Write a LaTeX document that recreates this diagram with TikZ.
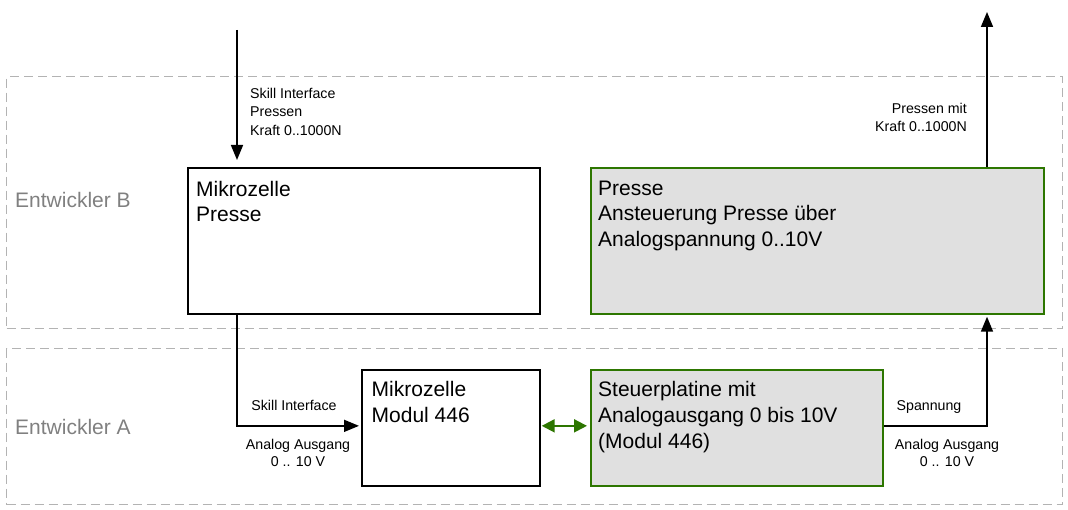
\documentclass[tikz,border=0pt]{standalone}
\usepackage{fontspec}
\setmainfont{Liberation Sans}
\usetikzlibrary{arrows.meta}
\definecolor{grn}{HTML}{2D7600}
\definecolor{gfill}{HTML}{E0E0E0}
\definecolor{lanec}{HTML}{B3B3B3}
\definecolor{lanetxt}{HTML}{808080}
\newcommand\bigf{\fontsize{21}{25.6}\selectfont}
\newcommand\smallf{\fontsize{14.2}{18.4}\selectfont}
\newcommand\smallg{\fontsize{14.2}{17.2}\selectfont}
\begin{document}
\begin{tikzpicture}[x=1pt,y=-1pt,
  lane/.style={draw=lanec, line width=1.2pt, dash pattern=on 9pt off 5pt, rectangle, inner sep=0pt, anchor=north west},
  lanelbl/.style={text=lanetxt, font=\bigf, inner sep=0pt, anchor=base west},
  wbox/.style={draw=black, line width=1.7pt, fill=white, rectangle, inner sep=0pt, anchor=north west},
  gbox/.style={draw=grn, fill=gfill, line width=1.7pt, rectangle, inner sep=0pt, anchor=north west},
  btxt/.style={font=\bigf, align=left, inner sep=0pt, anchor=north west},
  stxt/.style={font=\smallf, inner sep=0pt},
  conn/.style={line width=1.6pt, -{Triangle[length=15pt,width=12pt]}},
  gconn/.style={draw=grn, line width=2pt, {Triangle[length=13pt,width=13pt]}-{Triangle[length=13pt,width=13pt]}}
]
\useasboundingbox (0,0) rectangle (1068,510);
% lanes
\node[lane, minimum width=1056pt, minimum height=252pt] (laneB) at (6,76) {};
\node[lane, minimum width=1056pt, minimum height=156pt] (laneA) at (6,348) {};
\node[lanelbl] (lblB) at (15,208) {Entwickler B};
\node[lanelbl] (lblA) at (15,434) {Entwickler A};
% boxes
\node[wbox, minimum width=352pt, minimum height=146pt] (mp) at (187,167) {};
\node[gbox, minimum width=453pt, minimum height=146pt] (pr) at (590,167) {};
\node[wbox, minimum width=178pt, minimum height=116pt] (mod) at (361,369) {};
\node[gbox, minimum width=292pt, minimum height=116pt] (st) at (590,369) {};
% box texts
\node[btxt] (mpt) at (196,178.1) {\strut Mikrozelle\\Presse};
\node[btxt] (prt) at (598,177.1) {\strut Presse\\Ansteuerung Presse über\\Analogspannung 0..10V};
\node[btxt] (modt) at (371.5,378.8) {\strut Mikrozelle\\Modul 446};
\node[btxt] (stt) at (598,378.8) {\strut Steuerplatine mit\\Analogausgang 0 bis 10V\\(Modul 446)};
% connectors
\coordinate (inTop) at (237,30);
\coordinate (outTop) at (987,12);
\draw[conn, shorten >=7pt] (inTop) -- (inTop |- mp.north);
\draw[conn] (pr.north -| outTop) -- (outTop);
\draw[conn, shorten >=2pt] (mp.south -| inTop) |- ([yshift=2pt]mod.west);
\draw[gconn, shorten <=1pt, shorten >=3pt] ([yshift=2pt]mod.east) -- ([yshift=2pt]st.west);
\draw[conn, shorten >=2pt] ([yshift=2pt]st.east) -| (pr.south -| outTop);
% connector labels
\node[stxt, align=left, anchor=north west] (l1) at (250,85.5) {\strut Skill Interface\\Pressen\\Kraft 0..1000N};
\node[stxt, align=right, anchor=north east] (l2) at (967,100.4) {\strut Pressen mit\\Kraft 0..1000N};
\node[stxt, anchor=base] (l3) at (294,410.7) {Skill Interface};
\node[stxt, font=\smallg, align=center, anchor=north] (l4) at (298,437) {\strut Analog Ausgang\\0 .. 10 V};
\node[stxt, anchor=base] (l5) at (929,410.7) {Spannung};
\node[stxt, font=\smallg, align=center, anchor=north] (l6) at (947,437) {\strut Analog Ausgang\\0 .. 10 V};
\end{tikzpicture}
\end{document}
